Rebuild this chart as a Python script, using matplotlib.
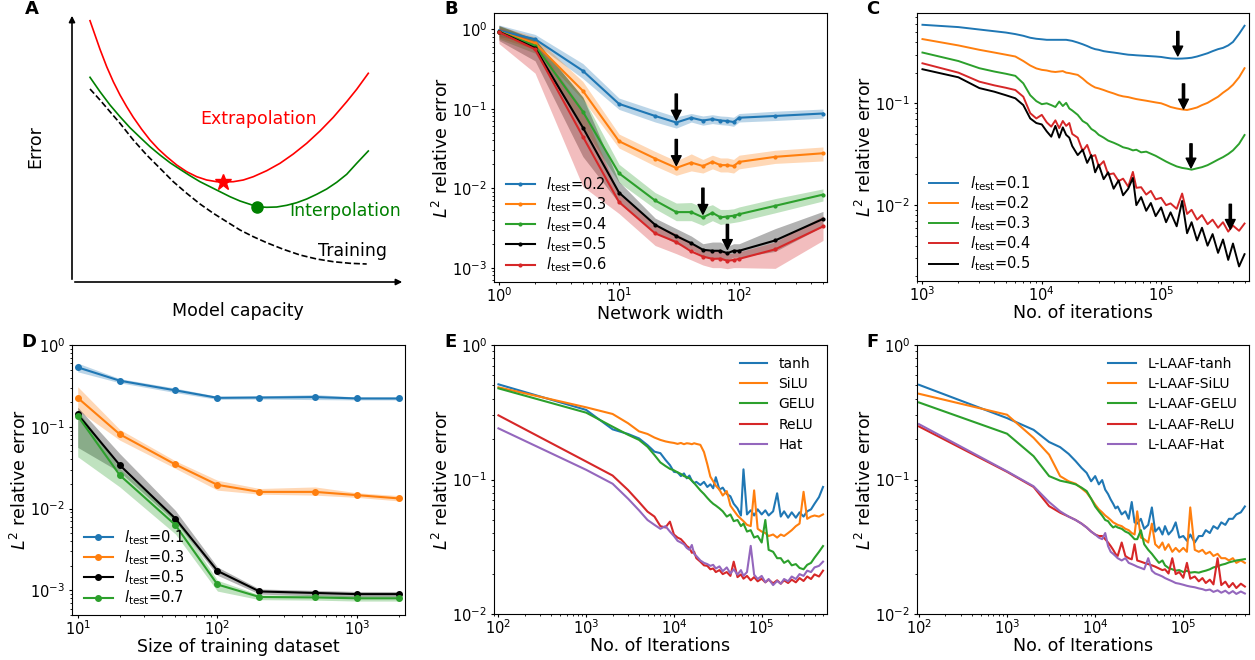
import matplotlib
matplotlib.use("Agg")
import matplotlib.pyplot as plt

# ---------------- data ----------------
# panel A (schematic, axis units)
a_extrap_x = [18, 23, 28, 34.7, 41.3, 48, 54.7, 61.3, 69.7, 78, 86.3, 94.7, 104.7, 114.7, 124.7, 134.7,
              144.7, 151.3, 161.3, 171.3, 181.3, 194.7, 208, 221.3, 234.7, 248, 261.3, 274.7, 284.7, 296.3]
a_extrap_y = [261.3, 247, 232.7, 215.3, 200.3, 187, 175.3, 164.7, 152.7, 142, 133, 125.3, 117, 110.3, 105.3, 102,
              100.3, 100, 100.3, 102, 105.3, 111.3, 118.7, 128, 138.7, 151, 164.7, 180.3, 192.7, 208.7]
a_interp_x = [18, 28, 38, 48, 58, 68, 78, 88, 98, 108, 118, 128, 138, 148, 158, 168, 178, 184.7,
              194.7, 204.7, 214.7, 224.7, 234.7, 244.7, 254.7, 264.7, 274.7, 284.7, 296.3]
a_interp_y = [204.7, 190.3, 177, 165.3, 154.3, 144.7, 135.3, 127, 119.3, 112.7, 106.3, 100.3, 95.3, 90.3, 85.3, 81,
              77.7, 75.3, 74.7, 75, 76.7, 79.3, 83, 87.7, 93, 99.7, 107.7, 118.7, 131]
a_train_x = [18, 28, 38, 48, 61.3, 74.7, 88, 101.3, 114.7, 128, 141.3, 154.7, 168, 181.3, 194.7, 211.3,
             228, 244.7, 261.3, 278, 294.7]
a_train_y = [193, 182, 170.3, 158.7, 142, 127, 113.7, 100.3, 88.7, 78, 68.7, 60.3, 52, 45.3, 39.3, 32.7,
             27, 23, 20.3, 18.7, 18]
a_star = (151.3, 100.3)
a_dot = (184.7, 74.7)

# panel B: network width
b_width = [1, 2, 5, 10, 20, 30, 40, 50, 60, 70, 80, 90, 100, 200, 500]
b_ltest = ['0.2', '0.3', '0.4', '0.5', '0.6']
b_err = {
    '0.2': [0.96, 0.75, 0.30, 0.115, 0.081, 0.067, 0.077, 0.071, 0.074, 0.071, 0.070, 0.068, 0.077, 0.081, 0.087],
    '0.3': [0.93, 0.67, 0.168, 0.039, 0.0236, 0.018, 0.021, 0.019, 0.0215, 0.0195, 0.0195, 0.019, 0.0214, 0.0248, 0.0275],
    '0.4': [0.93, 0.62, 0.092, 0.0154, 0.0070, 0.0050, 0.0050, 0.0043, 0.0049, 0.0043, 0.0044, 0.0045, 0.0047, 0.0060, 0.0083],
    '0.5': [0.93, 0.58, 0.058, 0.0088, 0.00346, 0.0025, 0.00203, 0.00168, 0.00163, 0.00163, 0.00152, 0.00163, 0.00163, 0.0022, 0.0041],
    '0.6': [0.92, 0.56, 0.0446, 0.0067, 0.0027, 0.0021, 0.0016, 0.00138, 0.00129, 0.0013, 0.00122, 0.00125, 0.00129, 0.0017, 0.0033],
}
b_lo = {
    '0.2': [0.81, 0.66, 0.24, 0.098, 0.068, 0.057, 0.068, 0.062, 0.065, 0.063, 0.062, 0.060, 0.068, 0.071, 0.076],
    '0.3': [0.78, 0.56, 0.13, 0.032, 0.019, 0.0145, 0.0165, 0.0155, 0.0175, 0.016, 0.016, 0.0155, 0.0175, 0.0205, 0.022],
    '0.4': [0.75, 0.50, 0.060, 0.0118, 0.0055, 0.0039, 0.0039, 0.0034, 0.0039, 0.0035, 0.0036, 0.0037, 0.0038, 0.0049, 0.0069],
    '0.5': [0.72, 0.40, 0.025, 0.0065, 0.0028, 0.0020, 0.0017, 0.00140, 0.00130, 0.00130, 0.00125, 0.00135, 0.00135, 0.00160, 0.0033],
    '0.6': [0.66, 0.28, 0.0105, 0.0048, 0.0019, 0.0015, 0.00125, 0.00108, 0.00100, 0.00100, 0.00097, 0.00100, 0.00100, 0.00098, 0.0022],
}
b_hi = {
    '0.2': [1.13, 0.86, 0.37, 0.136, 0.096, 0.079, 0.087, 0.081, 0.084, 0.081, 0.080, 0.078, 0.087, 0.093, 0.099],
    '0.3': [1.10, 0.80, 0.22, 0.048, 0.029, 0.022, 0.027, 0.023, 0.026, 0.024, 0.024, 0.023, 0.026, 0.030, 0.033],
    '0.4': [1.10, 0.74, 0.14, 0.020, 0.0088, 0.0065, 0.0066, 0.0057, 0.0062, 0.0054, 0.0054, 0.0055, 0.0058, 0.0074, 0.0098],
    '0.5': [1.12, 0.75, 0.14, 0.0121, 0.0042, 0.0031, 0.0025, 0.0020, 0.0021, 0.0021, 0.00185, 0.0020, 0.0020, 0.0031, 0.0051],
    '0.6': [1.05, 0.70, 0.097, 0.0085, 0.0034, 0.0027, 0.0020, 0.00165, 0.00160, 0.00160, 0.00150, 0.00152, 0.00158, 0.0021, 0.0045],
}
# arrows in B: (width, tail, tip)
b_arrows = [(30, 0.153, 0.072), (30, 0.041, 0.0193), (50, 0.010, 0.0047), (80, 0.0035, 0.0017)]

# panel C/E/F: iterations (logged every 1000)
iters = [1000, 2000, 3000, 4000, 5000, 6000, 7000, 8000, 9000, 10000, 11000, 12000, 13000, 14000,
         15000, 16000, 17000, 18000, 20000, 22000, 24000, 26000, 28000, 30000, 33000, 36000, 40000,
         44000, 48000, 53000, 58000, 62000, 68000, 75000, 82000, 90000, 100000, 110000, 120000,
         135000, 150000, 165000, 180000, 200000, 220000, 245000, 270000, 300000, 330000, 365000,
         400000, 450000, 500000]

c_ltest = ['0.1', '0.2', '0.3', '0.4', '0.5']
c_err = {
    '0.1': [0.59, 0.56, 0.53, 0.51, 0.495, 0.478, 0.46, 0.44, 0.43, 0.425, 0.42, 0.42, 0.42, 0.42,
            0.42, 0.42, 0.415, 0.41, 0.395, 0.38, 0.365, 0.35, 0.34, 0.335, 0.325, 0.32, 0.315,
            0.31, 0.305, 0.30, 0.298, 0.296, 0.294, 0.292, 0.29, 0.288, 0.285, 0.28, 0.276,
            0.274, 0.275, 0.277, 0.28, 0.288, 0.298, 0.31, 0.325, 0.34, 0.35, 0.37,
            0.40, 0.48, 0.577],
    '0.2': [0.427, 0.37, 0.335, 0.315, 0.30, 0.288, 0.26, 0.235, 0.22, 0.213, 0.21, 0.205, 0.203, 0.205,
            0.207, 0.20, 0.198, 0.195, 0.19, 0.175, 0.16, 0.15, 0.143, 0.14, 0.135, 0.13, 0.125,
            0.12, 0.117, 0.115, 0.112, 0.11, 0.108, 0.106, 0.104, 0.102, 0.10, 0.096, 0.092,
            0.089, 0.087, 0.086, 0.088, 0.091, 0.096, 0.101, 0.108, 0.116, 0.127, 0.138,
            0.152, 0.18, 0.221],
    '0.3': [0.315, 0.26, 0.221, 0.205, 0.195, 0.186, 0.157, 0.12, 0.105, 0.098, 0.10, 0.096, 0.092, 0.104,
            0.094, 0.101, 0.089, 0.085, 0.077, 0.067, 0.063, 0.056, 0.053, 0.049, 0.046, 0.043, 0.041,
            0.039, 0.037, 0.036, 0.0345, 0.035, 0.033, 0.0335, 0.032, 0.0305, 0.0285, 0.0268, 0.0255,
            0.024, 0.0232, 0.0228, 0.0223, 0.023, 0.0236, 0.0247, 0.0262, 0.028, 0.0296, 0.0318,
            0.0345, 0.04, 0.0488],
    '0.4': [0.247, 0.20, 0.163, 0.15, 0.142, 0.135, 0.116, 0.08, 0.071, 0.077, 0.065, 0.059, 0.068, 0.057,
            0.067, 0.06, 0.064, 0.05, 0.046, 0.034, 0.039, 0.030, 0.031, 0.024, 0.027, 0.020, 0.0205,
            0.0172, 0.0182, 0.0152, 0.0212, 0.0148, 0.015, 0.0127, 0.0138, 0.0114, 0.0118, 0.010, 0.0104,
            0.0092, 0.013, 0.0082, 0.009, 0.0072, 0.008, 0.0065, 0.0072, 0.006, 0.0068, 0.0055,
            0.0063, 0.0056, 0.0066],
    '0.5': [0.216, 0.18, 0.141, 0.13, 0.12, 0.112, 0.096, 0.071, 0.064, 0.062, 0.053, 0.047, 0.06, 0.046,
            0.058, 0.049, 0.046, 0.038, 0.031, 0.035, 0.026, 0.031, 0.021, 0.025, 0.018, 0.021, 0.0145,
            0.0175, 0.0125, 0.0145, 0.0185, 0.010, 0.012, 0.0088, 0.0105, 0.0078, 0.0095, 0.0068, 0.0085,
            0.0062, 0.011, 0.0053, 0.0068, 0.0045, 0.006, 0.004, 0.0052, 0.0034, 0.0046, 0.0029,
            0.0042, 0.0025, 0.0033],
}
c_colors = ['tab:blue', 'tab:orange', 'tab:green', 'tab:red', 'k']
# arrows in C: (iteration, tail, tip)
c_arrows = [(138000, 0.507, 0.292), (154000, 0.155, 0.088), (178000, 0.040, 0.0232), (380000, 0.0102, 0.0058)]

# panel D: training set size
d_size = [10, 20, 50, 100, 200, 500, 1000, 2000]
d_ltest = ['0.1', '0.3', '0.5', '0.7']
d_err = {
    '0.1': [0.533, 0.366, 0.279, 0.226, 0.228, 0.231, 0.222, 0.222],
    '0.3': [0.226, 0.081, 0.0346, 0.0195, 0.016, 0.016, 0.0146, 0.0133],
    '0.5': [0.142, 0.034, 0.00755, 0.00173, 0.00097, 0.00093, 0.0009, 0.0009],
    '0.7': [0.136, 0.0256, 0.0063, 0.00118, 0.00083, 0.00082, 0.0008, 0.0008],
}
d_lo = {
    '0.1': [0.47, 0.345, 0.262, 0.216, 0.218, 0.215, 0.213, 0.213],
    '0.3': [0.16, 0.0687, 0.031, 0.0168, 0.015, 0.0146, 0.0137, 0.0124],
    '0.5': [0.056, 0.028, 0.0069, 0.00153, 0.0009, 0.00086, 0.00083, 0.00083],
    '0.7': [0.043, 0.0184, 0.0049, 0.00098, 0.00077, 0.00076, 0.00074, 0.00074],
}
d_hi = {
    '0.1': [0.60, 0.388, 0.297, 0.236, 0.238, 0.248, 0.231, 0.231],
    '0.3': [0.309, 0.0928, 0.0383, 0.0222, 0.0176, 0.0184, 0.0156, 0.0144],
    '0.5': [0.174, 0.047, 0.0095, 0.00193, 0.00104, 0.001, 0.00097, 0.00097],
    '0.7': [0.16, 0.031, 0.0079, 0.00133, 0.00088, 0.00088, 0.00086, 0.00086],
}
d_colors = ['tab:blue', 'tab:orange', 'k', 'tab:green']

# panel E/F: activation functions
iters_ef = [100] + iters
act_names = ['tanh', 'SiLU', 'GELU', 'ReLU', 'Hat']
e_err = {
    'tanh': [0.51, 0.329, 0.236, 0.218, 0.202, 0.18, 0.161, 0.157, 0.14, 0.128, 0.114, 0.113, 0.106, 0.111, 0.102,
             0.107, 0.098, 0.094, 0.096, 0.091, 0.096, 0.088, 0.092, 0.086, 0.104, 0.084, 0.087, 0.078,
             0.075, 0.066, 0.061, 0.054, 0.119, 0.055, 0.059, 0.054, 0.06, 0.055, 0.059, 0.054,
             0.058, 0.079, 0.053, 0.058, 0.052, 0.057, 0.052, 0.057, 0.053, 0.058, 0.06,
             0.066, 0.074, 0.088],
    'SiLU': [0.485, 0.344, 0.307, 0.262, 0.228, 0.218, 0.205, 0.197, 0.192, 0.189, 0.187, 0.184, 0.187, 0.183, 0.186,
             0.185, 0.183, 0.186, 0.184, 0.181, 0.16, 0.13, 0.105, 0.097, 0.09, 0.084, 0.076, 0.082,
             0.064, 0.059, 0.054, 0.051, 0.049, 0.046, 0.045, 0.083, 0.043, 0.041, 0.04, 0.038,
             0.039, 0.037, 0.039, 0.038, 0.04, 0.042, 0.045, 0.047, 0.081, 0.051, 0.053,
             0.054, 0.053, 0.055],
    'GELU': [0.476, 0.314, 0.247, 0.215, 0.197, 0.175, 0.152, 0.134, 0.126, 0.12, 0.117, 0.113, 0.11, 0.106, 0.104,
             0.102, 0.098, 0.094, 0.09, 0.083, 0.078, 0.073, 0.069, 0.066, 0.064, 0.061, 0.058, 0.053,
             0.055, 0.049, 0.05, 0.045, 0.047, 0.041, 0.042, 0.037, 0.038, 0.034, 0.05, 0.03,
             0.029, 0.026, 0.026, 0.024, 0.025, 0.023, 0.0235, 0.022, 0.0215, 0.0232, 0.024,
             0.0262, 0.029, 0.032],
    'ReLU': [0.30, 0.136, 0.107, 0.0835, 0.068, 0.0577, 0.053, 0.045, 0.044, 0.0486, 0.039, 0.037, 0.036, 0.034, 0.032,
             0.031, 0.0285, 0.029, 0.026, 0.0245, 0.023, 0.0228, 0.0215, 0.0218, 0.0205, 0.0212, 0.0198, 0.0205,
             0.0192, 0.0245, 0.0188, 0.0197, 0.0183, 0.0192, 0.0178, 0.0188, 0.0175, 0.0183, 0.0172, 0.018,
             0.0169, 0.0178, 0.0168, 0.0178, 0.017, 0.018, 0.0172, 0.0185, 0.0176, 0.019, 0.0182,
             0.0197, 0.019, 0.021],
    'Hat': [0.24, 0.118, 0.093, 0.072, 0.059, 0.05, 0.046, 0.043, 0.045, 0.041, 0.038, 0.035, 0.034, 0.033, 0.031,
            0.03, 0.0326, 0.028, 0.027, 0.025, 0.024, 0.0235, 0.0228, 0.0232, 0.0218, 0.0226, 0.0208, 0.0222,
            0.02, 0.0215, 0.0196, 0.0212, 0.0192, 0.0205, 0.0321, 0.0196, 0.0182, 0.0192, 0.0172, 0.0182,
            0.0164, 0.0176, 0.0168, 0.0182, 0.0175, 0.019, 0.0182, 0.0198, 0.0192, 0.021, 0.0205,
            0.0222, 0.0228, 0.0245],
}
f_err = {
    'tanh': [0.506, 0.286, 0.234, 0.19, 0.174, 0.155, 0.137, 0.122, 0.112, 0.097, 0.106, 0.092, 0.099, 0.084, 0.078,
             0.071, 0.066, 0.061, 0.063, 0.055, 0.058, 0.051, 0.068, 0.048, 0.047, 0.051, 0.043, 0.046,
             0.062, 0.041, 0.044, 0.039, 0.045, 0.039, 0.042, 0.048, 0.037, 0.038, 0.035, 0.039,
             0.034, 0.038, 0.038, 0.042, 0.04, 0.045, 0.043, 0.048, 0.046, 0.051, 0.051,
             0.055, 0.057, 0.063],
    'SiLU': [0.434, 0.303, 0.204, 0.153, 0.106, 0.097, 0.093, 0.086, 0.08, 0.072, 0.065, 0.06, 0.057, 0.054, 0.052,
             0.05, 0.048, 0.047, 0.046, 0.045, 0.043, 0.042, 0.04, 0.039, 0.058, 0.037, 0.036, 0.034,
             0.047, 0.033, 0.031, 0.034, 0.03, 0.033, 0.029, 0.031, 0.029, 0.031, 0.029, 0.062,
             0.03, 0.029, 0.03, 0.028, 0.029, 0.027, 0.028, 0.026, 0.026, 0.025, 0.026,
             0.024, 0.025, 0.024],
    'GELU': [0.374, 0.219, 0.149, 0.106, 0.098, 0.095, 0.092, 0.087, 0.082, 0.072, 0.063, 0.058, 0.054, 0.05, 0.049,
             0.046, 0.044, 0.045, 0.044, 0.043, 0.041, 0.04, 0.038, 0.036, 0.036, 0.042, 0.033, 0.03,
             0.028, 0.026, 0.024, 0.025, 0.023, 0.022, 0.0215, 0.021, 0.0212, 0.0205, 0.021, 0.0203,
             0.0205, 0.0203, 0.0207, 0.021, 0.0215, 0.0222, 0.0226, 0.0232, 0.0236, 0.0242, 0.0246,
             0.025, 0.0253, 0.0256],
    'ReLU': [0.248, 0.114, 0.088, 0.0634, 0.0567, 0.053, 0.05, 0.047, 0.044, 0.041, 0.039, 0.038, 0.038, 0.036, 0.034,
             0.032, 0.03, 0.028, 0.027, 0.034, 0.027, 0.026, 0.0255, 0.033, 0.025, 0.0245, 0.024, 0.0235,
             0.023, 0.0225, 0.0218, 0.0212, 0.0215, 0.02, 0.026, 0.0198, 0.0205, 0.0186, 0.024, 0.0183,
             0.019, 0.0175, 0.0185, 0.017, 0.018, 0.0166, 0.026, 0.0164, 0.0174, 0.0158, 0.017,
             0.0156, 0.0168, 0.016],
    'Hat': [0.258, 0.115, 0.089, 0.068, 0.058, 0.053, 0.05, 0.047, 0.044, 0.041, 0.039, 0.037, 0.036, 0.04, 0.032,
            0.029, 0.028, 0.027, 0.026, 0.025, 0.026, 0.024, 0.0235, 0.023, 0.0225, 0.022, 0.0215, 0.026,
            0.021, 0.02, 0.0195, 0.019, 0.0185, 0.018, 0.0175, 0.017, 0.0168, 0.0165, 0.0162, 0.016,
            0.0158, 0.0155, 0.0153, 0.015, 0.0152, 0.0146, 0.015, 0.0144, 0.0149, 0.0142, 0.0148,
            0.0141, 0.0147, 0.0142],
}
act_colors = ['tab:blue', 'tab:orange', 'tab:green', 'tab:red', 'tab:purple']

# ---------------- figure ----------------
plt.rcParams['font.family'] = ['DejaVu Sans']
plt.rcParams['xtick.labelsize'] = 10.5
plt.rcParams['ytick.labelsize'] = 10.5
plt.rcParams['axes.labelsize'] = 12.5
plt.rcParams['xtick.major.size'] = 2.5
plt.rcParams['ytick.major.size'] = 2.5
plt.rcParams['xtick.minor.size'] = 1.5
plt.rcParams['ytick.minor.size'] = 1.5
plt.rcParams['xtick.major.pad'] = 0.8
plt.rcParams['ytick.major.pad'] = 2.5

W, H = 1255, 660
fig = plt.figure(figsize=(W / 100, H / 100), dpi=100)


def add_axes(x0, y0, x1, y1):
    return fig.add_axes([x0 / W, 1 - y1 / H, (x1 - x0) / W, (y1 - y0) / H])


ax_a = add_axes(72, 13, 405, 282)
ax_b = add_axes(494, 13, 827, 282)
ax_c = add_axes(917, 13, 1249, 281)
ax_d = add_axes(72, 345, 405, 615)
ax_e = add_axes(494, 345, 827, 614)
ax_f = add_axes(917, 345, 1249, 614)

ltest = r'$l_{\rm test}$='
arrow_kw = dict(facecolor='k', edgecolor='k', width=1.6, headwidth=7, headlength=7, shrink=0)
leg_kw = dict(loc='lower left', bbox_to_anchor=(0, -0.015), frameon=False, fontsize=10.5,
              labelspacing=0.1, borderaxespad=0.4, handlelength=2.0)

# ----- A -----
ax = ax_a
ax.set_xlim(0, 333)
ax.set_ylim(0, 269)
ax.axis('off')
ax.annotate('', xy=(333, 0), xytext=(0, 0), arrowprops=dict(arrowstyle='-|>', color='k', lw=1.2, mutation_scale=9), annotation_clip=False)
ax.annotate('', xy=(0, 269), xytext=(0, 0), arrowprops=dict(arrowstyle='-|>', color='k', lw=1.2, mutation_scale=9), annotation_clip=False)
ax.plot(a_extrap_x, a_extrap_y, color='red', lw=1.2)
ax.plot(a_interp_x, a_interp_y, color='green', lw=1.2)
ax.plot(a_train_x, a_train_y, color='k', lw=1.2, ls='--')
ax.plot(*a_star, marker='*', color='red', ms=12)
ax.plot(*a_dot, marker='o', color='green', ms=8)
ax.text(187, 163, 'Extrapolation', color='red', fontsize=12.5, ha='center', va='center')
ax.text(273, 71, 'Interpolation', color='green', fontsize=12.5, ha='center', va='center')
ax.text(280, 31, 'Training', color='k', fontsize=12.5, ha='center', va='center')
ax.text(-37, 135, 'Error', fontsize=12.5, rotation=90, ha='center', va='center')
ax.text(166, -29, 'Model capacity', fontsize=12.5, ha='center', va='center')

# ----- B -----
ax = ax_b
b_colors = ['tab:blue', 'tab:orange', 'tab:green', 'k', 'tab:red']
for lt, col in zip(b_ltest, b_colors):
    ax.fill_between(b_width, b_lo[lt], b_hi[lt], color=col, alpha=0.3, lw=0)
    ax.plot(b_width, b_err[lt], color=col, marker='.', ms=4, lw=1.5, label=ltest + lt)
for x, tail, tip in b_arrows:
    ax.annotate('', xy=(x, tip), xytext=(x, tail), arrowprops=arrow_kw)
ax.set_xscale('log')
ax.set_yscale('log')
ax.set_xlim(0.91, 540)
ax.set_ylim(6.6e-4, 1.6)
ax.set_xlabel('Network width', labelpad=0)
ax.set_ylabel(r'$L^2$ relative error', labelpad=0)
ax.legend(**leg_kw)

# ----- C -----
ax = ax_c
for lt, col in zip(c_ltest, c_colors):
    ax.plot(iters, c_err[lt], color=col, lw=1.4, label=ltest + lt)
for x, tail, tip in c_arrows:
    ax.annotate('', xy=(x, tip), xytext=(x, tail), arrowprops=arrow_kw)
ax.set_xscale('log')
ax.set_yscale('log')
ax.set_xlim(900, 545000)
ax.set_ylim(0.0018, 0.77)
ax.set_xlabel('No. of iterations', labelpad=0)
ax.set_ylabel(r'$L^2$ relative error', labelpad=0)
ax.legend(**leg_kw)

# ----- D -----
ax = ax_d
for lt, col in zip(d_ltest, d_colors):
    ax.fill_between(d_size, d_lo[lt], d_hi[lt], color=col, alpha=0.3, lw=0)
    ax.plot(d_size, d_err[lt], color=col, marker='o', ms=4, lw=1.5, label=ltest + lt)
ax.set_xscale('log')
ax.set_yscale('log')
ax.set_xlim(9.1, 2200)
ax.set_ylim(5e-4, 1)
ax.set_xlabel('Size of training dataset', labelpad=0)
ax.set_ylabel(r'$L^2$ relative error', labelpad=0)
ax.legend(**leg_kw)

# ----- E / F -----
for ax, data, prefix, xlim in [(ax_e, e_err, '', (89, 555000)), (ax_f, f_err, 'L-LAAF-', (95, 557000))]:
    for name, col in zip(act_names, act_colors):
        ax.plot(iters_ef, data[name], color=col, lw=1.5, label=prefix + name)
    ax.set_xscale('log')
    ax.set_yscale('log')
    ax.set_xlim(*xlim)
    ax.set_ylim(0.01, 1)
    ax.set_xlabel('No. of Iterations', labelpad=0)
    ax.set_ylabel(r'$L^2$ relative error', labelpad=0)
    ax.legend(loc='upper right', frameon=False, fontsize=10, labelspacing=0.45,
              borderaxespad=0.45, handlelength=2.0)

# panel letters
for letter, (px, py) in zip('ABCDEF', [(32, 9), (451, 9), (873, 9), (29, 342), (451, 342), (872, 342)]):
    fig.text(px / W, 1 - py / H, letter, fontsize=13, fontweight='bold', ha='center', va='center')

fig.savefig('out.png', dpi=100)
